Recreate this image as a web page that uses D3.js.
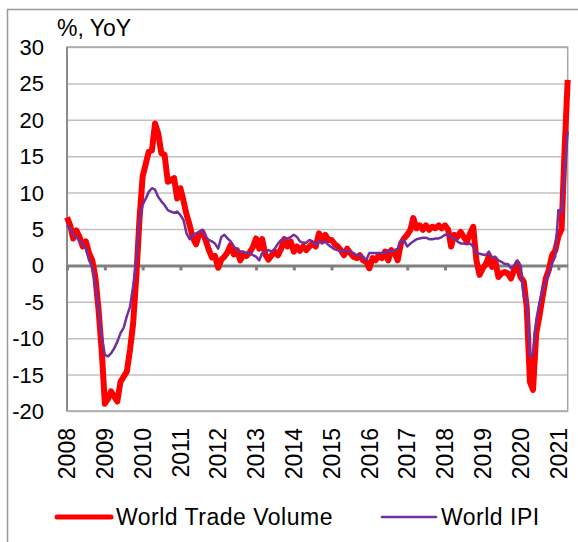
<!DOCTYPE html>
<html>
<head>
<meta charset="utf-8">
<script src="https://cdn.jsdelivr.net/npm/d3@7"></script>
<style>
    body { margin: 0; background: #fff; }
    text { font-family: "Liberation Sans", Arial, sans-serif; fill: #000; }
</style>
</head>
<body>
<svg id="chart" width="578" height="542"></svg>
<script>
// monthly, Jan 2008 .. Apr 2021, % YoY
const startYear = 2008;
const tradeVolume = [
    6.6, 5.5, 3.7, 4.8, 3.9, 2.6, 3.3, 1.7, 0.7, -1.6, -6.1, -11.6,
    -19.0, -18.3, -17.3, -18.0, -18.7, -16.0, -15.3, -14.6, -11.6, -8.0, -1.5, 6.2,
    12.2, 14.0, 15.6, 15.8, 19.5, 18.1, 15.4, 15.2, 11.5, 11.7, 12.0, 9.2,
    10.6, 8.8, 7.0, 5.5, 3.8, 2.9, 4.3, 4.6, 3.5, 2.2, 1.1, 1.3,
    -0.3, 0.8, 1.2, 1.8, 2.8, 1.5, 2.1, 0.7, 1.5, 1.3, 1.8, 2.5,
    3.7, 2.3, 3.6, 1.5, 0.8, 1.4, 1.9, 1.4, 2.3, 3.6, 2.6, 3.3,
    1.9, 2.6, 2.0, 2.6, 2.1, 2.6, 3.0, 2.6, 4.4, 3.5, 4.2, 3.5,
    3.5, 2.9, 2.6, 2.1, 1.4, 2.3, 1.7, 1.2, 1.0, 1.4, 0.7, 0.5,
    -0.4, 1.0, 0.7, 1.4, 1.0, 1.9, 0.7, 2.1, 1.7, 0.7, 3.0, 3.7,
    4.2, 4.9, 6.5, 5.1, 5.5, 4.9, 5.5, 4.9, 5.3, 5.1, 5.5, 5.1,
    5.5, 4.9, 2.6, 4.2, 3.9, 4.6, 3.9, 3.3, 4.4, 5.3, 0.7, -1.3,
    -0.4, 0.2, 1.2, -0.2, 0.7, -1.6, -1.1, -0.9, -1.1, -1.8, -0.6, 0.3,
    -1.6, -2.2, -5.7, -16.0, -17.1, -9.3, -7.0, -4.3, -1.8, -0.6, 1.4, 2.0,
    4.0, 5.0, 15.5, 25.5
];
const worldIPI = [
    5.5, 5.1, 4.2, 3.9, 3.3, 3.0, 2.3, 0.7, -0.2, -2.5, -6.1, -9.8,
    -12.3, -12.5, -12.1, -11.4, -10.5, -9.3, -8.6, -7.0, -5.7, -2.9, 0.7, 6.2,
    8.3, 9.2, 10.1, 10.6, 10.4, 9.4, 8.8, 8.3, 7.6, 7.4, 7.2, 7.4,
    6.9, 6.2, 4.4, 3.6, 4.2, 4.4, 4.6, 4.9, 3.9, 3.5, 3.3, 3.0,
    2.3, 3.9, 4.2, 3.7, 3.3, 2.6, 2.1, 1.9, 1.9, 1.7, 1.7, 1.4,
    1.2, 0.7, 1.7, 1.9, 2.1, 1.9, 2.3, 3.0, 3.5, 3.6, 3.7, 3.9,
    4.2, 3.9, 3.3, 3.1, 3.1, 3.5, 3.3, 2.8, 3.3, 3.0, 3.3, 2.8,
    2.5, 2.2, 2.1, 1.9, 2.1, 1.9, 1.9, 1.7, 1.4, 1.4, 1.2, 0.7,
    1.7, 1.7, 1.7, 1.7, 1.7, 1.7, 2.1, 1.9, 2.1, 2.3, 3.3, 3.5,
    2.6, 3.0, 3.3, 3.6, 3.7, 3.8, 3.8, 3.6, 3.6, 3.7, 3.7, 3.9,
    4.2, 4.2, 3.9, 3.7, 3.3, 3.0, 3.0, 2.9, 3.0, 2.6, 1.7, 1.6,
    1.5, 1.4, 1.9, 1.1, 1.2, 0.7, 0.5, 0.2, 0.2, -0.4, 0.0, 0.7,
    0.0, -4.3, -4.5, -12.5, -12.1, -7.5, -5.2, -3.4, -2.0, -1.1, 0.3, 1.2,
    7.6, 7.3, 12.5, 18.4
];
const yearTicks = d3.range(2008, 2022);
const yTicks = [-20, -15, -10, -5, 0, 5, 10, 15, 20, 25, 30];
const seriesNames = ['World Trade Volume', 'World IPI'];

const svg = d3.select('svg#chart');
const plotLeft = 67, plotRight = 567.7, plotTop = 47, plotBottom = 411;

// outer chart frame
svg.append('rect')
    .attr('x', 7.5).attr('y', 9.5)
    .attr('width', 590).attr('height', 560)
    .attr('fill', 'none')
    .attr('stroke', '#999')
    .attr('stroke-width', 1.5);

const months = tradeVolume.map((d, i) => new Date(startYear, i, 1));
const xScale = d3.scaleTime()
    .domain([months[0], months[months.length - 1]])
    .range([plotLeft, plotRight]);
const yScale = d3.scaleLinear()
    .domain([-20, 30])
    .range([plotBottom, plotTop]);

// grid
svg.append('g')
    .attr('transform', `translate(${plotLeft}, 0)`)
    .call(d3.axisLeft(yScale)
        .tickValues(yTicks)
        .tickSize(-(plotRight - plotLeft))
        .tickFormat(''))
    .call(g => g.select('.domain').remove())
    .call(g => g.selectAll('line').attr('stroke', '#c0c0c0').attr('stroke-width', 1.5));

// plot frame
svg.append('rect')
    .attr('x', plotLeft).attr('y', plotTop)
    .attr('width', plotRight - plotLeft).attr('height', plotBottom - plotTop)
    .attr('fill', 'none')
    .attr('stroke', '#a6a6a6')
    .attr('stroke-width', 1.5);
svg.append('line')
    .attr('x1', plotLeft).attr('x2', plotLeft)
    .attr('y1', plotTop).attr('y2', plotBottom)
    .attr('stroke', '#8c8c8c')
    .attr('stroke-width', 2);

// y labels
svg.append('g')
    .selectAll('text')
    .data(yTicks)
    .enter()
    .append('text')
    .attr('x', 44)
    .attr('y', d => yScale(d))
    .attr('dy', '0.36em')
    .attr('text-anchor', 'end')
    .style('font-size', '22px')
    .text(d => d);

svg.append('text')
    .attr('x', 57)
    .attr('y', 36)
    .style('font-size', '23px')
    .text('%, YoY');

// zero axis with year ticks
const xAxis = svg.append('g')
    .attr('transform', `translate(0, ${yScale(0)})`)
    .call(d3.axisBottom(xScale)
        .tickValues(yearTicks.map(y => new Date(y, 0, 1)))
        .tickSize(5)
        .tickSizeOuter(0)
        .tickFormat(''));
xAxis.select('.domain').attr('stroke', '#808080').attr('stroke-width', 3);
xAxis.selectAll('line').attr('stroke', '#808080').attr('stroke-width', 3);

// year labels
svg.append('g')
    .selectAll('text')
    .data(yearTicks)
    .enter()
    .append('text')
    .attr('transform', d => `translate(${xScale(new Date(d, 0, 1))}, 428) rotate(-90)`)
    .attr('dy', '0.36em')
    .attr('text-anchor', 'end')
    .style('font-size', '23px')
    .text(d => d);

// lines
const line = d3.line()
    .x((d, i) => xScale(months[i]))
    .y(d => yScale(d));

svg.append('path')
    .datum(tradeVolume)
    .attr('d', line)
    .attr('fill', 'none')
    .attr('stroke', '#ff0000')
    .attr('stroke-width', 6)
    .attr('stroke-linejoin', 'round');

svg.append('path')
    .datum(worldIPI)
    .attr('d', line)
    .attr('fill', 'none')
    .attr('stroke', '#7030a0')
    .attr('stroke-width', 2.5)
    .attr('stroke-linejoin', 'round');

// legend
const legend = [
    { name: seriesNames[0], color: '#ff0000', width: 5, x: 57 },
    { name: seriesNames[1], color: '#7030a0', width: 2.7, x: 382 }
];
const lg = svg.append('g')
    .selectAll('g')
    .data(legend)
    .enter()
    .append('g')
    .attr('transform', d => `translate(${d.x}, 517)`);
lg.append('line')
    .attr('x1', 0).attr('x2', 54)
    .attr('stroke', d => d.color)
    .attr('stroke-width', d => d.width)
    .attr('stroke-linecap', 'round');
lg.append('text')
    .attr('x', 59)
    .attr('dy', '0.36em')
    .style('font-size', '23px')
    .style('letter-spacing', '0.5px')
    .text(d => d.name);
</script>
</body>
</html>
